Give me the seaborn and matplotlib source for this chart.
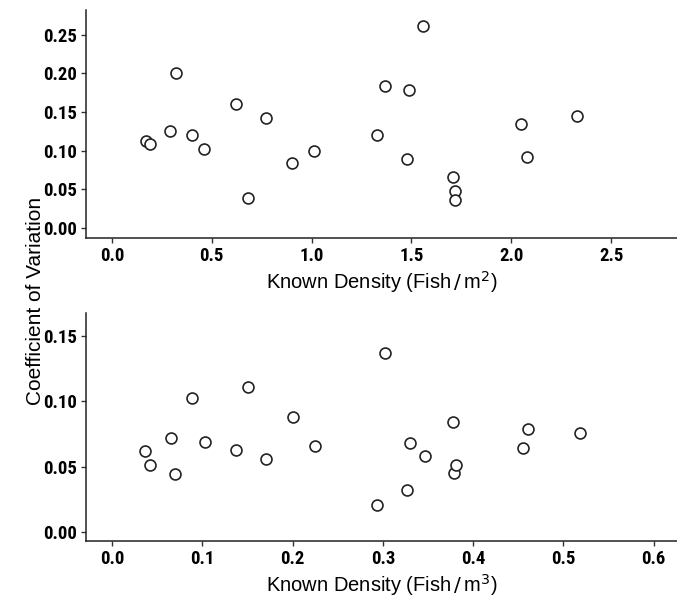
import matplotlib
matplotlib.use("Agg")
import matplotlib.pyplot as plt
import numpy as np
import pandas as pd
import seaborn as sns
from matplotlib import font_manager

# areal density (fish / m^2)
area_density = [0.17, 0.19, 0.29, 0.32, 0.40, 0.46, 0.62, 0.68, 0.77, 0.90, 1.01,
                1.33, 1.37, 1.48, 1.49, 1.56, 1.71, 1.72, 1.72, 2.05, 2.08, 2.33]
area_cv = [0.113, 0.109, 0.125, 0.200, 0.121, 0.102, 0.160, 0.039, 0.142, 0.084, 0.100,
           0.121, 0.184, 0.089, 0.178, 0.261, 0.066, 0.048, 0.036, 0.134, 0.092, 0.145]

# volumetric density (fish / m^3)
vol_density = [0.036, 0.042, 0.065, 0.070, 0.088, 0.103, 0.137, 0.151, 0.171, 0.200, 0.225,
               0.294, 0.302, 0.327, 0.330, 0.347, 0.378, 0.379, 0.381, 0.455, 0.461, 0.518]
vol_cv = [0.062, 0.051, 0.072, 0.044, 0.102, 0.069, 0.063, 0.111, 0.056, 0.088, 0.066,
          0.021, 0.137, 0.032, 0.068, 0.058, 0.084, 0.045, 0.051, 0.064, 0.079, 0.076]


def pick_font(names):
    have = {f.name for f in font_manager.fontManager.ttflist}
    for n in names:
        if n in have:
            return n
    return "DejaVu Sans"


def plot_cv():
    sns.set_theme(style="ticks")
    tick_font = pick_font(["Liberation Sans Narrow", "Roboto Condensed", "Liberation Sans"])
    label_font = pick_font(["Liberation Sans", "Arial"])

    fig = plt.figure(figsize=(6.77, 5.98), dpi=100)
    ax1 = fig.add_axes([0.127, 0.602, 0.873, 0.381])
    ax2 = fig.add_axes([0.127, 0.095, 0.873, 0.382])

    df1 = pd.DataFrame({"x": area_density, "y": area_cv})
    df2 = pd.DataFrame({"x": vol_density, "y": vol_cv})

    for ax, df in [(ax1, df1), (ax2, df2)]:
        sns.scatterplot(data=df, x="x", y="y", ax=ax, s=62, facecolor="white",
                        edgecolor="#222222", linewidth=1.2, zorder=3)
        sns.despine(ax=ax)
        ax.spines["left"].set_linewidth(1.1)
        ax.spines["bottom"].set_linewidth(1.1)
        ax.spines["left"].set_color("#222222")
        ax.spines["bottom"].set_color("#222222")
        ax.tick_params(direction="out", length=3.5, width=1, color="#333333", pad=3)
        ax.set_ylabel("")

    ax1.set_xlim(-0.13, 2.83)
    ax1.set_ylim(-0.013, 0.282)
    ax1.set_xticks(np.arange(0, 2.51, 0.5))
    ax1.set_yticks(np.arange(0, 0.251, 0.05))
    ax1.set_xticklabels([f"{v:.1f}" for v in np.arange(0, 2.51, 0.5)])
    ax1.set_yticklabels([f"{v:.2f}" for v in np.arange(0, 0.251, 0.05)])
    ax1.set_xlabel("Known Density (Fish$\\,/\\,$m$^2$)", fontsize=14.5, fontfamily=label_font,
                   color="black", labelpad=3)

    ax2.set_xlim(-0.029, 0.626)
    ax2.set_ylim(-0.007, 0.1675)
    ax2.set_xticks(np.arange(0, 0.61, 0.1))
    ax2.set_yticks(np.arange(0, 0.151, 0.05))
    ax2.set_xticklabels([f"{v:.1f}" for v in np.arange(0, 0.61, 0.1)])
    ax2.set_yticklabels([f"{v:.2f}" for v in np.arange(0, 0.151, 0.05)])
    ax2.set_xlabel("Known Density (Fish$\\,/\\,$m$^3$)", fontsize=14.5, fontfamily=label_font,
                   color="black", labelpad=3)

    for ax in (ax1, ax2):
        for lab in ax.get_xticklabels() + ax.get_yticklabels():
            lab.set_fontfamily(tick_font)
            lab.set_fontweight("bold")
            lab.set_fontsize(13.5)
            lab.set_color("black")

    fig.text(0.052, 0.497, "Coefficient of Variation", rotation=90, ha="center", va="center",
             fontsize=15, fontfamily=label_font, color="black")

    fig.savefig("out.png", dpi=100)


if __name__ == "__main__":
    plot_cv()
